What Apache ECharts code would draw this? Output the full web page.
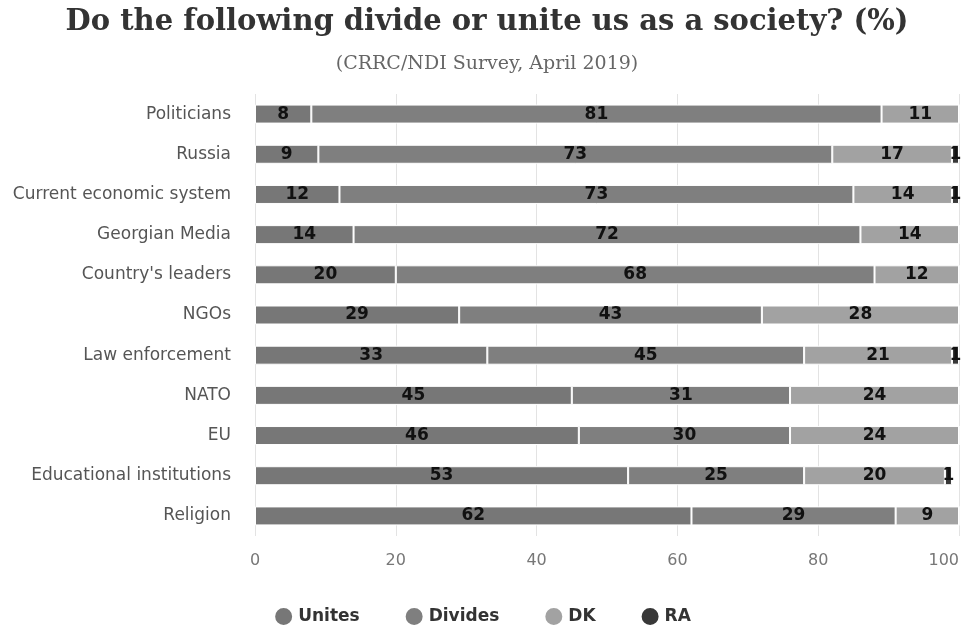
<!DOCTYPE html>
<html>
<head>
<meta charset="utf-8">
<script src="https://cdn.jsdelivr.net/npm/echarts@6/dist/echarts.min.js"></script>
<style>html,body{margin:0;padding:0;background:#fff;}#c{width:964px;height:628px;}</style>
</head>
<body>
<div id="c"></div>
<script>
var categories = ["Politicians","Russia","Current economic system","Georgian Media","Country's leaders","NGOs","Law enforcement","NATO","EU","Educational institutions","Religion"];
var unites  = [8, 9, 12, 14, 20, 29, 33, 45, 46, 53, 62];
var divides = [81, 73, 73, 72, 68, 43, 45, 31, 30, 25, 29];
var dk      = [11, 17, 14, 14, 12, 28, 21, 24, 24, 20, 9];
var ra      = [0, 1, 1, 0, 0, 0, 1, 0, 0, 1, 0];
var xTicks  = [0, 20, 40, 60, 80, 100];

var names = ["Unites","Divides","DK","RA"];
var colors = ["#777777","#7f7f7f","#a2a2a2","#383838"];
var datasets = [unites, divides, dk, ra];

var chart = echarts.init(document.getElementById('c'));
chart.setOption({
  animation: false,
  title: [
    {text: "Do the following divide or unite us as a society? (%)", left: 482, textAlign: 'center', top: 3,
     textStyle: {fontFamily: 'DejaVu Serif', fontWeight: 'bold', fontSize: 29, color: '#333'}},
    {text: "(CRRC/NDI Survey, April 2019)", left: 482, textAlign: 'center', top: 50,
     textStyle: {fontFamily: 'DejaVu Serif', fontWeight: 'normal', fontSize: 19, color: '#666'}}
  ],
  legend: {
    top: 601, left: 'center', icon: 'circle', itemWidth: 19, itemHeight: 19, itemGap: 44,
    data: names,
    textStyle: {fontFamily: 'DejaVu Sans', fontWeight: 'bold', fontSize: 17, color: '#333'}
  },
  grid: {left: 255, right: 5, top: 94, bottom: 92, containLabel: false, outerBoundsMode: 'none'},
  xAxis: {
    type: 'value', min: xTicks[0], max: xTicks[xTicks.length-1], interval: 20,
    axisLine: {show: false}, axisTick: {show: false},
    splitLine: {lineStyle: {color: '#e3e3e3'}},
    axisLabel: {fontFamily: 'DejaVu Sans', fontSize: 16, color: '#777', margin: 17, alignMaxLabel: 'right'}
  },
  yAxis: {
    type: 'category', data: categories, inverse: true,
    axisLine: {show: false}, axisTick: {show: false},
    axisLabel: {fontFamily: 'DejaVu Sans', fontSize: 17, color: '#555', margin: 24}
  },
  series: names.map(function(n, i) {
    return {
      name: n, type: 'bar', stack: 'all', barWidth: 19,
      itemStyle: {color: colors[i], borderColor: '#fff', borderWidth: 1},
      label: {
        show: true, position: 'inside', fontFamily: 'DejaVu Sans', fontWeight: 'bold',
        fontSize: 17, color: '#111',
        formatter: function(p){ return p.value > 0 ? p.value : ''; }
      },
      data: datasets[i]
    };
  })
});
</script>
</body>
</html>
